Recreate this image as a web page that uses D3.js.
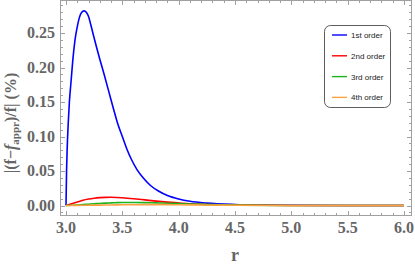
<!DOCTYPE html>
<html>
<head>
<meta charset="utf-8">
<script src="https://cdn.jsdelivr.net/npm/d3@7"></script>
<style>
  body { margin: 0; background: #fff; }
  svg { display: block; }
</style>
</head>
<body>
<div id="chart"></div>
<script>
// data: r and relative error (%) per order
var rBlue = [3.00, 3.005, 3.01, 3.02, 3.03, 3.045, 3.06, 3.08, 3.10, 3.12, 3.14, 3.16, 3.18, 3.20, 3.22, 3.24, 3.27, 3.30, 3.34, 3.38, 3.42, 3.46, 3.50, 3.54, 3.58, 3.63, 3.69, 3.75, 3.82, 3.90, 4.00, 4.10, 4.25, 4.50, 4.75, 5.00, 5.50, 6.00];
var firstOrder = [0, 0.05, 0.08, 0.12, 0.15, 0.18, 0.21, 0.24, 0.259, 0.273, 0.280, 0.282, 0.280, 0.274, 0.262, 0.249, 0.230, 0.212, 0.189, 0.165, 0.141, 0.118, 0.100, 0.082, 0.067, 0.052, 0.039, 0.029, 0.021, 0.0145, 0.0095, 0.0062, 0.0035, 0.0015, 0.0007, 0.0003, 0.0001, 0];

var rLow = [3.00, 3.05, 3.10, 3.15, 3.20, 3.25, 3.30, 3.35, 3.40, 3.45, 3.50, 3.60, 3.70, 3.80, 3.90, 4.00, 4.20, 4.50, 5.00, 6.00];
var secondOrder = [0, 0.0025, 0.005, 0.0075, 0.0093, 0.0106, 0.0114, 0.0118, 0.0119, 0.0117, 0.0112, 0.0098, 0.0081, 0.0064, 0.0049, 0.0037, 0.0019, 0.0007, 0.0001, 0];
var thirdOrder = [0, 0.0003, 0.0008, 0.0013, 0.0019, 0.0025, 0.0030, 0.0035, 0.0038, 0.0041, 0.0043, 0.0044, 0.0042, 0.0038, 0.0033, 0.0027, 0.0016, 0.0006, 0.0001, 0];
var fourthOrder = [0, 0.0001, 0.0002, 0.0003, 0.0004, 0.0005, 0.0006, 0.0007, 0.0008, 0.0009, 0.0010, 0.0011, 0.0012, 0.0012, 0.0012, 0.0011, 0.0008, 0.0004, 0.0001, 0];

var legendLabels = ["1st order", "2nd order", "3rd order", "4th order"];
var colors = ["#0000ff", "#ff0000", "#1db31d", "#ffa040"];

var xTicks = [3.0, 3.5, 4.0, 4.5, 5.0, 5.5, 6.0];
var yTicks = [0, 0.05, 0.10, 0.15, 0.20, 0.25];

var series = [
    {r: rBlue, v: firstOrder},
    {r: rLow, v: secondOrder},
    {r: rLow, v: thirdOrder},
    {r: rLow, v: fourthOrder}
];

var width = 415, height = 264;
var frame = {left: 60.5, right: 411.5, top: 0.5, bottom: 215.5};

var x = d3.scaleLinear().domain([3.0, 6.0]).range([66, 404]);
var y = d3.scaleLinear().domain([0, 0.25]).range([205.5, 33]);

var svg = d3.select("#chart").append("svg")
    .attr("width", width)
    .attr("height", height);

// frame
svg.append("rect")
    .attr("x", frame.left)
    .attr("y", frame.top)
    .attr("width", frame.right - frame.left)
    .attr("height", frame.bottom - frame.top)
    .attr("fill", "none")
    .attr("stroke", "#a0a0a0")
    .attr("stroke-width", 1);

// ticks on all four sides, pointing in
var tickColor = "#a0a0a0";
var xMinor = d3.range(30, 61).map(function(d) { return d / 10; });
var yMinor = d3.range(-1, 30).map(function(d) { return d / 100; });

xMinor.forEach(function(t) {
    var major = Math.abs(t * 2 - Math.round(t * 2)) < 1e-6;
    var len = major ? 4.5 : 2.5;
    var px = Math.round(x(t)) + 0.5;
    svg.append("line").attr("x1", px).attr("x2", px)
        .attr("y1", frame.bottom).attr("y2", frame.bottom - len)
        .attr("stroke", tickColor);
    svg.append("line").attr("x1", px).attr("x2", px)
        .attr("y1", frame.top).attr("y2", frame.top + len)
        .attr("stroke", tickColor);
});

yMinor.forEach(function(t) {
    var py = Math.round(y(t)) + 0.5;
    if (py < frame.top + 1 || py > frame.bottom - 1) return;
    var major = Math.abs(t * 20 - Math.round(t * 20)) < 1e-6;
    var len = major ? 4.5 : 2.5;
    svg.append("line").attr("x1", frame.left).attr("x2", frame.left + len)
        .attr("y1", py).attr("y2", py)
        .attr("stroke", tickColor);
    svg.append("line").attr("x1", frame.right).attr("x2", frame.right - len)
        .attr("y1", py).attr("y2", py)
        .attr("stroke", tickColor);
});

// tick labels
var labelFont = "'Liberation Serif', 'Times New Roman', serif";
svg.selectAll(".xlab")
    .data(xTicks)
    .enter().append("text")
    .attr("class", "xlab")
    .attr("x", function(d) { return x(d); })
    .attr("y", 233)
    .attr("text-anchor", "middle")
    .attr("font-family", labelFont)
    .attr("font-weight", "bold")
    .attr("font-size", "16px")
    .attr("fill", "#666")
    .text(function(d) { return d3.format(".1f")(d); });

svg.selectAll(".ylab")
    .data(yTicks)
    .enter().append("text")
    .attr("class", "ylab")
    .attr("x", 55)
    .attr("y", function(d) { return y(d) + 5; })
    .attr("text-anchor", "end")
    .attr("font-family", labelFont)
    .attr("font-weight", "bold")
    .attr("font-size", "16px")
    .attr("fill", "#666")
    .text(function(d) { return d3.format(".2f")(d); });

// axis titles
svg.append("text")
    .attr("x", 235)
    .attr("y", 261)
    .attr("text-anchor", "middle")
    .attr("font-family", labelFont)
    .attr("font-weight", "bold")
    .attr("font-size", "18px")
    .attr("fill", "#666")
    .text("r");

var yTitle = svg.append("text")
    .attr("transform", "translate(16,123) rotate(-90)")
    .attr("text-anchor", "middle")
    .attr("font-family", labelFont)
    .attr("font-weight", "bold")
    .attr("font-size", "16px")
    .attr("fill", "#666");
yTitle.append("tspan").text("|(f\u2212");
yTitle.append("tspan").attr("font-style", "italic").text("f");
yTitle.append("tspan").attr("font-size", "11px").attr("dy", 3).text("appr");
yTitle.append("tspan").attr("dy", -3).text(")/f| (%)");

// curves
var line = d3.line()
    .x(function(d) { return x(d[0]); })
    .y(function(d) { return y(d[1]); })
    .curve(d3.curveMonotoneX);

svg.append("g")
    .selectAll("path")
    .data(series)
    .enter().append("path")
    .attr("d", function(s) { return line(d3.zip(s.r, s.v)); })
    .attr("fill", "none")
    .attr("stroke", function(s, i) { return colors[i]; })
    .attr("stroke-width", 1.6);

// legend
var legend = svg.append("g");
legend.append("rect")
    .attr("x", 324.5)
    .attr("y", 25.5)
    .attr("width", 66)
    .attr("height", 82)
    .attr("rx", 6)
    .attr("fill", "#fff")
    .attr("stroke", "#333")
    .attr("stroke-width", 0.8);

var legendRow = legend.selectAll(".legendRow")
    .data(legendLabels)
    .enter().append("g")
    .attr("class", "legendRow")
    .attr("transform", function(d, i) {
        return "translate(332, " + (35 + i * 20.8) + ")";
    });

legendRow.append("line")
    .attr("x1", 0).attr("x2", 15)
    .attr("stroke", function(d, i) { return colors[i]; })
    .attr("stroke-width", 1.4);

legendRow.append("text")
    .attr("x", 19)
    .attr("y", 3)
    .attr("font-family", "'Liberation Sans', Arial, sans-serif")
    .attr("font-size", "8px")
    .attr("fill", "#222")
    .text(function(d) { return d; });
</script>
</body>
</html>
